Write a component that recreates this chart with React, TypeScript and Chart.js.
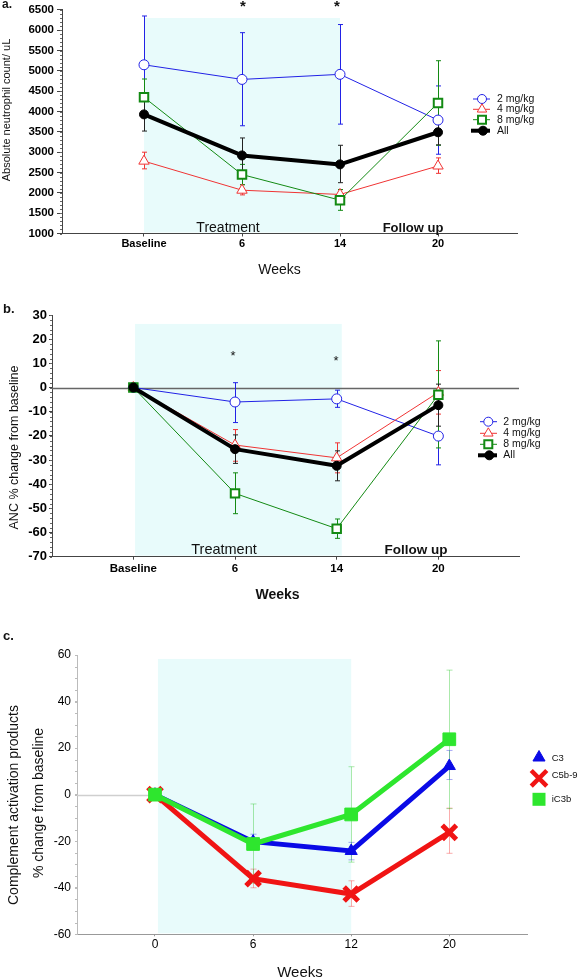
import React, { useEffect, useRef } from 'react';
import { Chart, registerables } from 'chart.js';

Chart.register(...registerables);

const FONT = "'Liberation Sans', Arial, Helvetica, sans-serif";

// ---------- data ----------
const weeksAB = ['Baseline', '6', '14', '20'];
const weeksC = ['0', '6', '12', '20'];
const doseNames = ['2 mg/kg', '4 mg/kg', '8 mg/kg', 'All'];
const compNames = ['C3', 'C5b-9', 'iC3b'];

// panel a: absolute neutrophil count / uL
const anc2 = [5150, 4790, 4915, 3790];
const anc2Hi = [6350, 5940, 6140, 4630];
const anc2Lo = [3950, 3650, 3690, 2950];
const anc4 = [2780, 2065, 1960, 2660];
const anc4Hi = [3000, 2200, 2080, 2860];
const anc4Lo = [2590, 1950, 1840, 2480];
const anc8 = [4350, 2450, 1820, 4210];
const anc8Hi = [4800, 2700, 2080, 5250];
const anc8Lo = [3900, 2200, 1570, 3170];
const ancAll = [3930, 2920, 2700, 3490];
const ancAllHi = [4340, 3350, 3170, 3800];
const ancAllLo = [3520, 2490, 2250, 3180];

// panel b: ANC % change from baseline
const pct2 = [0, -6, -4.7, -20.1];
const pct2Hi = [0, 2, -1.1, -8];
const pct2Lo = [0, -14.5, -8.2, -32];
const pct4 = [0, -23.8, -29.1, -2];
const pct4Hi = [0, -17.4, -22.9, 7];
const pct4Lo = [0, -30.5, -35.3, -11];
const pct8 = [0, -43.8, -58.4, -3];
const pct8Hi = [0, -35.3, -54.4, 19.3];
const pct8Lo = [0, -52.2, -62.4, -25];
const pctAll = [0, -25.5, -32.4, -7.3];
const pctAllHi = [0, -19.6, -26.2, 1.4];
const pctAllLo = [0, -31.4, -38.6, -16];

// panel c: complement activation products % change
const c3 = [0, -20.2, -24.2, 12.3];
const c3Hi = [0, -17, -20.5, 19];
const c3Lo = [0, -23.5, -28, 6.5];
const c5b9 = [0, -36.1, -42.7, -16.2];
const c5b9Hi = [0, -32, -37, -5.8];
const c5b9Lo = [0, -40, -48, -25.2];
const ic3b = [0, -21.2, -8.5, 23.8];
const ic3bHi = [0, -4, 12, 53.5];
const ic3bLo = [0, -38, -29, -6];

// ---------- styles ----------
const BLUE = '#2222e6';
const RED = '#f03434';
const GREEN = '#138a13';
const BLACK = '#000000';
const CBLUE = '#0a0ae6';
const CRED = '#f01414';
const CGREEN = '#2ee62e';
const SHADE = '#e8fbfb';

const pts = (arr: number[]) => arr.map((v, i) => ({ x: i, y: v }));

function drawMarker(ctx: CanvasRenderingContext2D, shape: string, x: number, y: number, r: number, stroke: string, fill: string, lw: number) {
  ctx.save();
  ctx.lineWidth = lw;
  ctx.strokeStyle = stroke;
  ctx.fillStyle = fill;
  ctx.beginPath();
  if (shape === 'circle') ctx.arc(x, y, r, 0, Math.PI * 2);
  else if (shape === 'triangle') {
    ctx.moveTo(x, y - r);
    ctx.lineTo(x + r * 0.866, y + r / 2);
    ctx.lineTo(x - r * 0.866, y + r / 2);
    ctx.closePath();
  } else if (shape === 'rect') ctx.rect(x - r, y - r, 2 * r, 2 * r);
  else if (shape === 'cross') {
    const d = r * 0.707;
    ctx.moveTo(x - d, y - d);
    ctx.lineTo(x + d, y + d);
    ctx.moveTo(x + d, y - d);
    ctx.lineTo(x - d, y + d);
  }
  if (shape !== 'cross' && fill) ctx.fill();
  if (lw > 0) ctx.stroke();
  ctx.restore();
}

function overlay(opts: any) {
  return {
    id: 'overlay',
    beforeDatasetsDraw(chart: any) {
      const { ctx, chartArea: ca } = chart;
      const x = chart.scales.x;
      const y = chart.scales.y;
      ctx.save();
      if (opts.shade) {
        const x0 = x.getPixelForValue(opts.shade.from);
        const x1 = x.getPixelForValue(opts.shade.to);
        const yt = y.getPixelForValue(opts.shade.top);
        ctx.fillStyle = SHADE;
        ctx.fillRect(x0, yt, x1 - x0, ca.bottom - 1 - yt);
      }
      if (opts.zero) {
        const yz = Math.round(y.getPixelForValue(0)) + 0.5;
        const xe = opts.zero.to === undefined ? ca.right : x.getPixelForValue(opts.zero.to);
        ctx.strokeStyle = opts.zero.color;
        ctx.lineWidth = opts.zero.width;
        ctx.beginPath();
        ctx.moveTo(ca.left, yz);
        ctx.lineTo(xe, yz);
        ctx.stroke();
      }
      if (opts.minor) {
        ctx.strokeStyle = opts.minor.color;
        ctx.lineWidth = 1;
        for (let v = y.min; v <= y.max + 1e-9; v += opts.minor.step) {
          const py = Math.round(y.getPixelForValue(v)) + 0.5;
          ctx.beginPath();
          ctx.moveTo(ca.left - opts.minor.len, py);
          ctx.lineTo(ca.left, py);
          ctx.stroke();
        }
      }
      chart.data.datasets.forEach((ds: any) => {
        if (!ds.errHi) return;
        ctx.strokeStyle = ds.errColor || ds.borderColor;
        ctx.lineWidth = ds.errWidth || 1;
        const cw = ds.capW || 2.5;
        ds.data.forEach((pt: any, j: number) => {
          const hi = ds.errHi[j];
          const lo = ds.errLo[j];
          if (hi === lo) return;
          const px = Math.round(x.getPixelForValue(pt.x)) + 0.5;
          const yh = y.getPixelForValue(hi);
          const yl = y.getPixelForValue(lo);
          ctx.beginPath();
          ctx.moveTo(px, yh);
          ctx.lineTo(px, yl);
          ctx.moveTo(px - cw, yh);
          ctx.lineTo(px + cw, yh);
          ctx.moveTo(px - cw, yl);
          ctx.lineTo(px + cw, yl);
          ctx.stroke();
        });
      });
      ctx.restore();
    },
    afterDraw(chart: any) {
      const ctx = chart.ctx as CanvasRenderingContext2D;
      ctx.save();
      (opts.texts || []).forEach((t: any) => {
        ctx.save();
        ctx.font = t.font;
        ctx.fillStyle = t.color || '#111';
        ctx.textAlign = t.align || 'center';
        ctx.textBaseline = 'middle';
        ctx.translate(t.x, t.y);
        if (t.rot) ctx.rotate((t.rot * Math.PI) / 180);
        ctx.fillText(t.t, 0, 0);
        ctx.restore();
      });
      (opts.legend || []).forEach((l: any) => {
        if (l.lineFrom !== undefined) {
          ctx.save();
          ctx.strokeStyle = l.stroke;
          ctx.lineWidth = l.lineW;
          ctx.beginPath();
          ctx.moveTo(l.lineFrom, l.y);
          ctx.lineTo(l.lineTo, l.y);
          ctx.stroke();
          ctx.restore();
        }
        drawMarker(ctx, l.shape, l.mx, l.y, l.r, l.stroke, l.fill, l.lw);
        ctx.font = l.font;
        ctx.fillStyle = '#111';
        ctx.textAlign = 'left';
        ctx.textBaseline = 'middle';
        ctx.fillText(l.label, l.tx, l.ty);
      });
      ctx.restore();
    },
  };
}

function doseDatasets(d: number[][]) {
  const [m2, h2, l2, m4, h4, l4, m8, h8, l8, mA, hA, lA] = d;
  return [
    {
      label: doseNames[0], data: pts(m2), errHi: h2, errLo: l2,
      borderColor: BLUE, borderWidth: 1, pointStyle: 'circle', pointRadius: 5,
      pointBackgroundColor: '#fff', pointBorderColor: BLUE, pointBorderWidth: 1, order: 3,
    },
    {
      label: doseNames[1], data: pts(m4), errHi: h4, errLo: l4,
      borderColor: RED, borderWidth: 1, pointStyle: 'triangle', pointRadius: 6,
      pointBackgroundColor: '#fff', pointBorderColor: RED, pointBorderWidth: 1, order: 2,
    },
    {
      label: doseNames[2], data: pts(m8), errHi: h8, errLo: l8,
      borderColor: GREEN, borderWidth: 1, pointStyle: 'rect', pointRadius: 6,
      pointBackgroundColor: '#fff', pointBorderColor: GREEN, pointBorderWidth: 2, order: 1,
    },
    {
      label: doseNames[3], data: pts(mA), errHi: hA, errLo: lA, errColor: '#222',
      borderColor: BLACK, borderWidth: 4, borderJoinStyle: 'round', pointStyle: 'circle', pointRadius: 4.5,
      pointBackgroundColor: BLACK, pointBorderColor: BLACK, pointBorderWidth: 1, order: 0,
    },
  ];
}

function doseLegend(x0: number, mx: number, x1: number, tx: number, ys: number[]) {
  const f = `10.5px ${FONT}`;
  return [
    { shape: 'circle', stroke: BLUE, fill: '#fff', r: 4.5, lw: 1, lineFrom: x0, lineTo: x1, lineW: 1, mx, y: ys[0], label: doseNames[0], tx, ty: ys[0], font: f },
    { shape: 'triangle', stroke: RED, fill: '#fff', r: 5.5, lw: 1, lineFrom: x0, lineTo: x1, lineW: 1, mx, y: ys[1], label: doseNames[1], tx, ty: ys[1], font: f },
    { shape: 'rect', stroke: GREEN, fill: '#fff', r: 4, lw: 2, lineFrom: x0, lineTo: x1, lineW: 1, mx, y: ys[2], label: doseNames[2], tx, ty: ys[2], font: f },
    { shape: 'circle', stroke: BLACK, fill: BLACK, r: 4.5, lw: 1, lineFrom: x0 - 2, lineTo: x1, lineW: 4, mx: mx + 1, y: ys[3], label: doseNames[3], tx, ty: ys[3], font: f },
  ];
}

function xScale(labels: string[], min: number, max: number, h: number, font: any, axisColor: string, tl: number, pad: number) {
  return {
    type: 'linear', min, max,
    afterBuildTicks: (s: any) => { s.ticks = labels.map((_, i) => ({ value: i })); },
    afterFit: (s: any) => { s.height = h; },
    ticks: { callback: (v: any) => labels[v] ?? '', font, color: '#000', padding: pad, autoSkip: false, maxRotation: 0 },
    grid: { display: true, drawOnChartArea: false, drawTicks: true, tickLength: tl, color: axisColor },
    border: { display: true, color: axisColor, width: 1 },
  };
}

function yScale(min: number, max: number, step: number, w: number, font: any, axisColor: string, tl: number, pad: number) {
  return {
    type: 'linear', min, max,
    afterFit: (s: any) => { s.width = w; },
    ticks: { stepSize: step, font, color: '#000', padding: pad, callback: (v: any) => String(v) },
    grid: { display: true, drawOnChartArea: false, drawTicks: true, tickLength: tl, color: axisColor },
    border: { display: true, color: axisColor, width: 1 },
  };
}

function cfgA(): any {
  return {
    type: 'line',
    data: {
      datasets: doseDatasets([anc2, anc2Hi, anc2Lo, anc4, anc4Hi, anc4Lo, anc8, anc8Hi, anc8Lo, ancAll, ancAllHi, ancAllLo]),
    },
    options: {
      responsive: false, animation: false,
      layout: { padding: { left: 0, top: 9, right: 61, bottom: 0 } },
      plugins: { legend: { display: false }, tooltip: { enabled: false } },
      elements: { line: { tension: 0 } },
      scales: {
        x: xScale(weeksAB, -0.8367, 3.806, 66.5, { family: FONT, size: 11, weight: 'bold' }, '#444', 3, 1),
        y: yScale(1000, 6500, 500, 62, { family: FONT, size: 11.5, weight: 'bold' }, '#444', 5, 3),
      },
    },
    plugins: [overlay({
      shade: { from: 0, to: 2.0, top: 6300 },
      minor: { step: 100, len: 2, color: '#666' },
      texts: [
        { t: 'a.', x: 2, y: 5, font: `bold 12px ${FONT}`, align: 'left' },
        { t: 'Absolute neutrophil count/ uL', x: 7, y: 110, font: `11px ${FONT}`, rot: -90 },
        { t: 'Treatment', x: 228, y: 228, font: `14px ${FONT}` },
        { t: 'Follow up', x: 413, y: 228, font: `bold 13px ${FONT}` },
        { t: 'Weeks', x: 279.5, y: 270, font: `14px ${FONT}` },
        { t: '*', x: 243, y: 7, font: `bold 15px ${FONT}` },
        { t: '*', x: 337, y: 7, font: `bold 15px ${FONT}` },
      ],
      legend: doseLegend(473, 482, 490, 497, [99, 109.3, 119.7, 130.7]),
    })],
  };
}

function cfgB(): any {
  return {
    type: 'line',
    data: {
      datasets: doseDatasets([pct2, pct2Hi, pct2Lo, pct4, pct4Hi, pct4Lo, pct8, pct8Hi, pct8Lo, pctAll, pctAllHi, pctAllLo]),
    },
    options: {
      responsive: false, animation: false,
      layout: { padding: { left: 0, top: 15, right: 59, bottom: 0 } },
      plugins: { legend: { display: false }, tooltip: { enabled: false } },
      elements: { line: { tension: 0 } },
      scales: {
        x: xScale(weeksAB, -0.8, 3.793, 73.3, { family: FONT, size: 11.5, weight: 'bold' }, '#444', 3, 2.5),
        y: yScale(-70, 30, 10, 52, { family: FONT, size: 13, weight: 'bold' }, '#444', 3, 2),
      },
    },
    plugins: [overlay({
      shade: { from: 0.017, to: 2.05, top: 26.3 },
      zero: { color: '#666', width: 1.5 },
      minor: { step: 2, len: 2, color: '#666' },
      texts: [
        { t: 'b.', x: 3, y: 9.5, font: `bold 13px ${FONT}`, align: 'left' },
        { t: 'ANC % change from baseline', x: 15, y: 147.5, font: `12.5px ${FONT}`, rot: -90 },
        { t: 'Treatment', x: 224, y: 250, font: `14.5px ${FONT}` },
        { t: 'Follow up', x: 416, y: 250, font: `bold 13.5px ${FONT}` },
        { t: 'Weeks', x: 277.5, y: 295, font: `bold 14px ${FONT}` },
        { t: '*', x: 233, y: 56, font: `13px ${FONT}` },
        { t: '*', x: 336, y: 61.5, font: `13px ${FONT}` },
      ],
      legend: doseLegend(480, 488.3, 497, 503.3, [121.7, 133.3, 144.3, 155.3]),
    })],
  };
}

function cfgC(): any {
  const errStyle = { errWidth: 1, capW: 3 };
  return {
    type: 'line',
    data: {
      datasets: [
        {
          label: compNames[0], data: pts(c3), errHi: c3Hi, errLo: c3Lo, errColor: 'rgba(10,10,230,0.35)', ...errStyle,
          borderColor: CBLUE, borderWidth: 5, pointStyle: 'triangle', pointRadius: 7,
          pointBackgroundColor: CBLUE, pointBorderColor: CBLUE, pointBorderWidth: 1, order: 2,
        },
        {
          label: compNames[1], data: pts(c5b9), errHi: c5b9Hi, errLo: c5b9Lo, errColor: 'rgba(240,20,20,0.35)', ...errStyle,
          borderColor: CRED, borderWidth: 5, pointStyle: 'crossRot', pointRadius: 10,
          pointBackgroundColor: CRED, pointBorderColor: CRED, pointBorderWidth: 5, order: 1,
        },
        {
          label: compNames[2], data: pts(ic3b), errHi: ic3bHi, errLo: ic3bLo, errColor: 'rgba(46,200,46,0.4)', ...errStyle,
          borderColor: CGREEN, borderWidth: 5, pointStyle: 'rect', pointRadius: 9,
          pointBackgroundColor: CGREEN, pointBorderColor: CGREEN, pointBorderWidth: 1, order: 0,
        },
      ],
    },
    options: {
      responsive: false, animation: false,
      layout: { padding: { left: 0, top: 25, right: 51, bottom: 0 } },
      plugins: { legend: { display: false }, tooltip: { enabled: false } },
      elements: { line: { tension: 0 } },
      scales: {
        x: xScale(weeksC, -0.795, 3.792, 44.7, { family: FONT, size: 12 }, '#999', 2, 1.5),
        y: yScale(-60, 60, 20, 77, { family: FONT, size: 12 }, '#bbb', 2, 4),
      },
    },
    plugins: [overlay({
      shade: { from: 0.03, to: 2.0, top: 58.3 },
      zero: { color: '#cfcfcf', width: 1.5, to: 0 },
      minor: { step: 5, len: 2, color: '#bbb' },
      texts: [
        { t: 'c.', x: 3, y: 6, font: `bold 13px ${FONT}`, align: 'left' },
        { t: 'Complement activation products', x: 13.7, y: 175, font: `14px ${FONT}`, rot: -90 },
        { t: '% change from baseline', x: 38.7, y: 173, font: `14px ${FONT}`, rot: -90 },
        { t: 'Weeks', x: 300, y: 343, font: `15px ${FONT}` },
      ],
      legend: [
        { shape: 'triangle', stroke: CBLUE, fill: CBLUE, r: 7, lw: 1, mx: 539, y: 127.5, label: compNames[0], tx: 551.7, ty: 128, font: `9.5px ${FONT}` },
        { shape: 'cross', stroke: CRED, fill: CRED, r: 11, lw: 4.5, mx: 539, y: 148.3, label: compNames[1], tx: 551.7, ty: 145, font: `9.5px ${FONT}` },
        { shape: 'rect', stroke: CGREEN, fill: CGREEN, r: 6.5, lw: 0, mx: 539, y: 169.3, label: compNames[2], tx: 551.7, ty: 169, font: `9.5px ${FONT}` },
      ],
    })],
  };
}

export default function App() {
  const ra = useRef<HTMLCanvasElement>(null);
  const rb = useRef<HTMLCanvasElement>(null);
  const rc = useRef<HTMLCanvasElement>(null);

  useEffect(() => {
    const charts = [
      new Chart(ra.current as HTMLCanvasElement, cfgA()),
      new Chart(rb.current as HTMLCanvasElement, cfgB()),
      new Chart(rc.current as HTMLCanvasElement, cfgC()),
    ];
    return () => charts.forEach((c) => c.destroy());
  }, []);

  return (
    <div style={{ position: 'absolute', left: 0, top: 0, width: 578, height: 979, background: '#fff' }}>
      <canvas ref={ra} width={578} height={300} style={{ position: 'absolute', left: 0, top: 0 }} />
      <canvas ref={rb} width={578} height={330} style={{ position: 'absolute', left: 0, top: 300 }} />
      <canvas ref={rc} width={578} height={349} style={{ position: 'absolute', left: 0, top: 630 }} />
    </div>
  );
}
